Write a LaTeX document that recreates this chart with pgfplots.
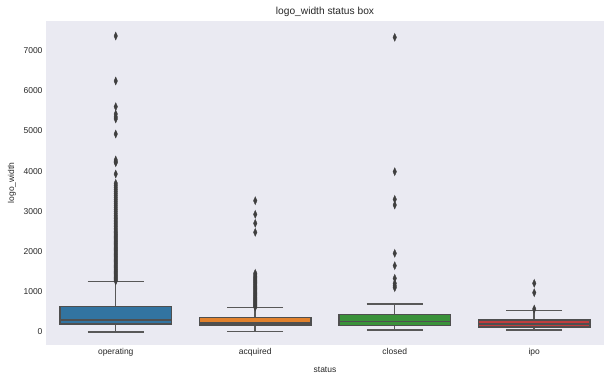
\documentclass[border=0pt]{standalone}
\usepackage{pgfplots}
\pgfplotsset{compat=1.18}
\usepgfplotslibrary{statistics}
\usepackage{fontspec}
\setmainfont{Liberation Sans}
\definecolor{bgc}{HTML}{EAEAF2}
\definecolor{cop}{HTML}{3274A1}
\definecolor{cac}{HTML}{E1812C}
\definecolor{ccl}{HTML}{3A923A}
\definecolor{cip}{HTML}{C03D3E}
\definecolor{lgray}{HTML}{4F4F4F}
\definecolor{wgray}{HTML}{585858}
\definecolor{mgray}{HTML}{3F3F3F}
\definecolor{tcol}{HTML}{262626}
\begin{document}
\begin{tikzpicture}
\begin{axis}[
  scale only axis, width=558pt, height=324.3pt,
  xmin=-0.5, xmax=3.5, ymin=-323, ymax=7744,
  axis background/.style={fill=bgc},
  axis line style={draw=none},
  tick style={draw=none},
  xtick={0,1,2,3}, xticklabels={operating,acquired,closed,ipo},
  ytick={0,1000,2000,3000,4000,5000,6000,7000},
  /pgf/number format/assume math mode=true,
  /pgf/number format/1000 sep={},
  ticklabel style={font=\fontsize{8.5}{10}\selectfont, text=tcol},
  xlabel={status}, ylabel={logo\_width},
  label style={font=\fontsize{8.5}{10}\selectfont, text=tcol},
  xlabel style={at={([yshift=-25pt]axis description cs:0.5,0)}, anchor=center},
  ylabel style={at={([xshift=-34pt]axis description cs:0,0.5)}, anchor=center, xshift=0pt, yshift=0pt},
  title={logo\_width status box},
  every axis title shift=0pt,
  title style={font=\fontsize{10.2}{12}\selectfont, text=tcol, at={([yshift=8.5pt]axis description cs:0.5,1)}, anchor=center, yshift=0pt},
  boxplot/draw direction=y,
  boxplot/box extend=0.8,
  boxplot/whisker extend=0.4,
  boxplot/every whisker/.style={draw=wgray, line width=1.5pt},
  boxplot/every median/.style={draw=lgray, line width=1.5pt},
]
\addplot[boxplot prepared={draw position=0, lower whisker=5, lower quartile=199, median=298, upper quartile=629, upper whisker=1251},
  fill=cop, draw=lgray, line width=1.3pt,
  mark=diamond*, mark size=4pt, mark options={xscale=0.6, fill=mgray, draw=mgray, line width=0.3pt}]
  table[row sep=\\, y index=0] {data\\
  1270\\1300\\1330\\1360\\1390\\1420\\1450\\1480\\1510\\1540\\1570\\1600\\1630\\1660\\1690\\1720\\1750\\1780\\1810\\1840\\
  1870\\1900\\1930\\1960\\1990\\2020\\2050\\2080\\2110\\2140\\2170\\2200\\2230\\2260\\2290\\2320\\2350\\2380\\2410\\2440\\
  2470\\2500\\2540\\2580\\2620\\2660\\2700\\2740\\2780\\2820\\2860\\2900\\2950\\3000\\3050\\3100\\3150\\3200\\3250\\3300\\
  3350\\3400\\3450\\3500\\3550\\3600\\3650\\3700\\3930\\4211\\4236\\4279\\4925\\5300\\5350\\5423\\5605\\6244\\7363\\};
\addplot[boxplot prepared={draw position=1, lower whisker=8, lower quartile=174, median=225, upper quartile=356, upper whisker=605},
  fill=cac, draw=lgray, line width=1.3pt,
  mark=diamond*, mark size=4pt, mark options={xscale=0.6, fill=mgray, draw=mgray, line width=0.3pt}]
  table[row sep=\\, y index=0] {data\\
  620\\645\\670\\695\\720\\745\\770\\795\\820\\845\\870\\900\\930\\960\\990\\1020\\1050\\1080\\1110\\1140\\
  1170\\1200\\1230\\1260\\1290\\1320\\1350\\1380\\1420\\1460\\2480\\2704\\2927\\3266\\};
\addplot[boxplot prepared={draw position=2, lower whisker=50, lower quartile=167, median=256, upper quartile=440, upper whisker=700},
  fill=ccl, draw=lgray, line width=1.3pt,
  mark=diamond*, mark size=4pt, mark options={xscale=0.6, fill=mgray, draw=mgray, line width=0.3pt}]
  table[row sep=\\, y index=0] {data\\
  1103\\1150\\1211\\1336\\1650\\1957\\3159\\3300\\3988\\7330\\};
\addplot[boxplot prepared={draw position=3, lower whisker=50, lower quartile=124, median=195, upper quartile=299, upper whisker=530},
  fill=cip, draw=lgray, line width=1.3pt,
  mark=diamond*, mark size=4pt, mark options={xscale=0.6, fill=mgray, draw=mgray, line width=0.3pt}]
  table[row sep=\\, y index=0] {data\\
  572\\978\\1211\\};
\end{axis}
\pgfresetboundingbox
\path[use as bounding box] (-46pt,-35pt) rectangle (565pt,345pt);
\end{tikzpicture}
\end{document}
